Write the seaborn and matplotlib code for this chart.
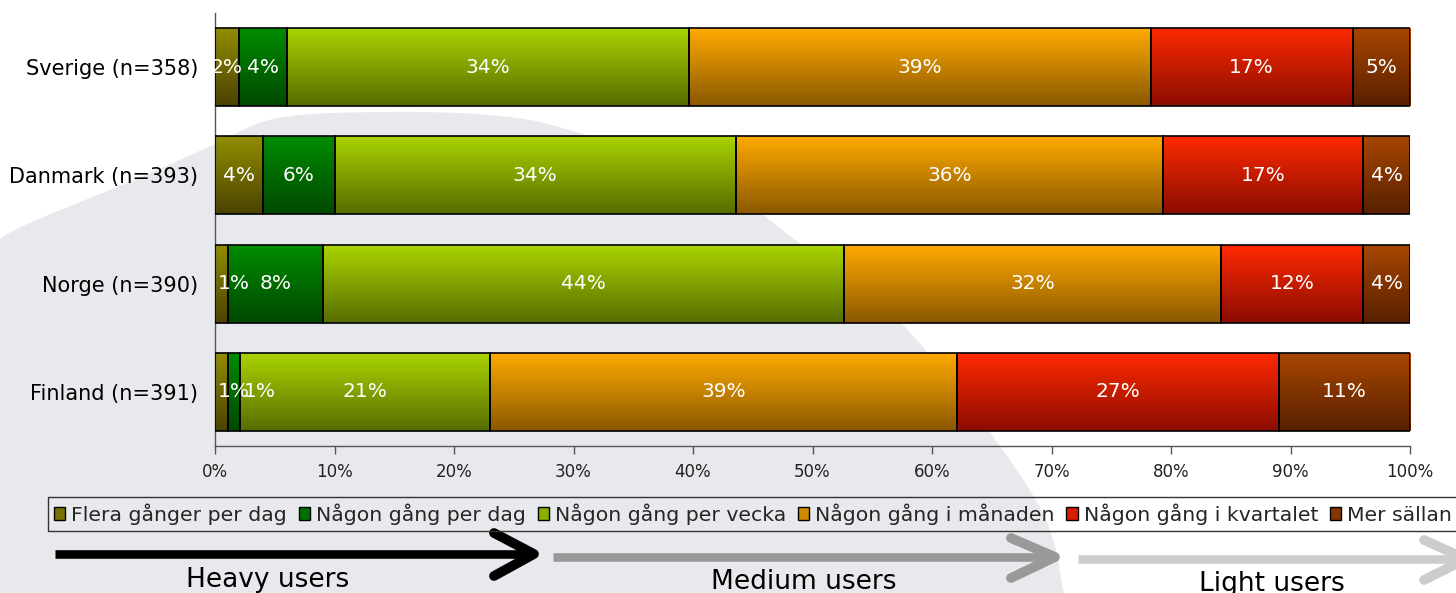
import numpy as np
import pandas as pd
import seaborn as sns
import matplotlib.pyplot as plt
from matplotlib.colors import LinearSegmentedColormap
from matplotlib.patches import Polygon, Patch

# data (share of respondents, %)
countries = ["Sverige (n=358)", "Danmark (n=393)", "Norge (n=390)", "Finland (n=391)"]
categories = ["Flera gånger per dag", "Någon gång per dag", "Någon gång per vecka",
              "Någon gång i månaden", "Någon gång i kvartalet", "Mer sällan"]
flera = [2.0, 4.0, 1.1, 1.1]
dag = [4.0, 6.0, 7.9, 1.0]
vecka = [33.7, 33.6, 43.6, 20.9]
manad = [38.6, 35.7, 31.6, 39.1]
kvartal = [16.9, 16.8, 11.9, 26.9]
sallan = [4.8, 3.9, 3.9, 11.0]
series = [flera, dag, vecka, manad, kvartal, sallan]

x_ticks = list(range(0, 101, 10))
x_ticklabels = [f"{t}%" for t in x_ticks]

top_colors = ["#928e00", "#008c00", "#aad400", "#ffaa00", "#ff2a00", "#a84600"]
bottom_colors = ["#4a4200", "#004800", "#566c00", "#8a5800", "#8a0c00", "#582000"]
mid_colors = ["#7a7200", "#007000", "#8cb000", "#d08a00", "#d81e00", "#843400"]

sns.set_theme(style="white")
plt.rcParams['font.family'] = ['DejaVu Sans']

fig = plt.figure(figsize=(14.56, 5.93), dpi=100)
fig.patch.set_facecolor("white")

# background decoration + arrows, in pixel coordinates
bg = fig.add_axes([0, 0, 1, 1], zorder=-1)
bg.set_xlim(0, 1456)
bg.set_ylim(593, 0)
bg.axis("off")


def smooth(points, n=30):
    p = np.array(points, float)
    p = np.vstack([p[0], p, p[-1]])
    out = []
    t = np.linspace(0, 1, n, endpoint=False)[:, None]
    for i in range(1, len(p) - 2):
        p0, p1, p2, p3 = p[i - 1], p[i], p[i + 1], p[i + 2]
        out.append(0.5 * (2 * p1 + (-p0 + p2) * t + (2 * p0 - 5 * p1 + 4 * p2 - p3) * t ** 2
                          + (-p0 + 3 * p1 - 3 * p2 + p3) * t ** 3))
    out.append(p[-2][None])
    return np.vstack(out)


edge = smooth([(-20, 255), (19, 228), (139, 178), (213, 145), (278, 118), (390, 112),
               (500, 116), (576, 132), (706, 178), (798, 242), (905, 327),
               (1034, 497), (1064, 593), (1068, 620)])
shape = np.vstack([edge, [(-20, 620)]])
bg.add_patch(Polygon(shape, closed=True, facecolor="#e8e9ec", edgecolor="none"))

arrows = [
    ((55, 530, 554), (494, 534, 533, 576), "black", "Heavy users", 268, 587),
    ((553, 1050, 557), (1011, 1055, 538, 578), "#999999", "Medium users", 804, 589),
    ((1078, 1455, 559), (1424, 1466, 540, 580), "#cccccc", "Light users", 1272, 591),
]
for (x0, x1, y), (hx, tip, hy0, hy1), col, txt, tx, ty in arrows:
    bg.plot([x0, x1], [y, y], color=col, lw=6.2, solid_capstyle="butt")
    bg.plot([hx, tip, hx], [hy0, y, hy1], color=col, lw=7,
            solid_capstyle="round", solid_joinstyle="round")
    bg.text(tx, ty, txt, ha="center", va="baseline", fontsize=19, color="black")

# main chart
ax = fig.add_axes([215 / 1456, 1 - 446 / 593, 1195 / 1456, 433 / 593])
ax.set_facecolor("none")

left = np.zeros(len(countries))
label_rows = [[] for _ in countries]
for vals, cat, top, bot in zip(series, categories, top_colors, bottom_colors):
    df = pd.DataFrame({"country": countries, "value": vals})
    n_before = len(ax.patches)
    sns.barplot(data=df, x="value", y="country", order=countries, orient="h",
                color=top, saturation=1, width=0.72, errorbar=None,
                left=left, edgecolor="black", linewidth=1.2, ax=ax)
    cmap = LinearSegmentedColormap.from_list(cat, [top, bot])
    grad = np.linspace(0, 1, 256)[:, None]
    for i, (p, v) in enumerate(zip(ax.patches[n_before:], vals)):
        x0, y0, w, h = p.get_x(), p.get_y(), p.get_width(), p.get_height()
        ax.imshow(grad, cmap=cmap, extent=(x0, x0 + w, y0 + h, y0), origin="upper",
                  aspect="auto", interpolation="bicubic", zorder=2)
        p.set_facecolor("none")
        p.set_zorder(3)
        t = ax.text(x0 + w / 2, y0 + h / 2, f"{v:.0f}%", ha="center", va="center",
                    color="white", fontsize=14.5, zorder=4)
        label_rows[i].append(t)
    left = left + np.array(vals)

ax.set_xlim(0, 100)
ax.set_ylim(len(countries) - 0.5, -0.5)
ax.set_xticks(x_ticks)
ax.set_xticklabels(x_ticklabels, fontsize=12, color="#222222")
ax.set_yticks(range(len(countries)))
ax.set_yticklabels(countries, fontsize=15, color="black")
ax.set_yticks(np.arange(-0.5, len(countries)), minor=True)
ax.tick_params(axis="y", which="major", length=0, pad=12)
ax.tick_params(axis="y", which="minor", length=6, width=1, color="#555555", direction="out")
ax.tick_params(axis="x", length=6, width=1, color="#555555", direction="out", pad=6,
               bottom=True)
ax.set_xlabel("")
ax.set_ylabel("")
for s in ["top", "right"]:
    ax.spines[s].set_visible(False)
for s in ["left", "bottom"]:
    ax.spines[s].set_color("#555555")
    ax.spines[s].set_linewidth(1)

handles = [Patch(facecolor=c, edgecolor="black", linewidth=1) for c in mid_colors]
leg = ax.legend(handles, categories, ncol=6, loc="upper left",
                bbox_to_anchor=(48 / 1456, 1 - 497 / 593), bbox_transform=fig.transFigure,
                fontsize=14.7, frameon=True, fancybox=False, framealpha=1,
                handlelength=0.55, handleheight=0.55, handletextpad=0.3,
                columnspacing=0.57, borderpad=0.3, borderaxespad=0)
leg.get_frame().set_facecolor("none")
leg.get_frame().set_edgecolor("#333333")
leg.get_frame().set_linewidth(1)

# keep small labels inside the plot area, like the spreadsheet chart does
fig.canvas.draw()
renderer = fig.canvas.get_renderer()
ax_left_px = ax.transData.transform((0, 0))[0]
for row in label_rows:
    prev = None
    for t in row:
        bb = t.get_window_extent(renderer)
        new_left = bb.x0
        if new_left < ax_left_px - 6:
            new_left = ax_left_px + 3
        if prev is not None and new_left < prev[0] + 0.8 * prev[1]:
            new_left = prev[0] + 0.8 * prev[1]
        if new_left != bb.x0:
            cx = new_left + bb.width / 2
            t.set_x(ax.transData.inverted().transform((cx, 0))[0])
        prev = (new_left, bb.width)

fig.savefig("out.png", dpi=100)
